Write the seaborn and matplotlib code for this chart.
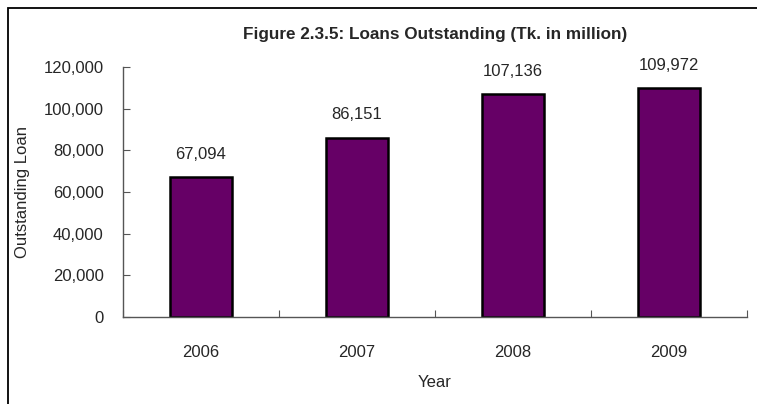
import matplotlib
matplotlib.use("Agg")
import matplotlib.pyplot as plt
import seaborn as sns
import pandas as pd
from matplotlib.patches import Rectangle
from matplotlib.ticker import FixedLocator, FuncFormatter

years = ["2006", "2007", "2008", "2009"]
loans = [67094, 86151, 107136, 109972]
y_ticks = [0, 20000, 40000, 60000, 80000, 100000, 120000]

sns.set_style("white")
plt.rcParams["font.family"] = ["Liberation Sans", "DejaVu Sans"]

df = pd.DataFrame({"Year": years, "Loan": loans})

fig = plt.figure(figsize=(7.57, 4.04), dpi=100)
ax = fig.add_axes([0.1625, 0.2153, 0.8243, 0.6188])

sns.barplot(data=df, x="Year", y="Loan", color="#660066", width=0.4,
            edgecolor="black", linewidth=1.8, saturation=1, ax=ax)

for bar, v in zip(ax.patches, loans):
    ax.annotate(f"{v:,}", (bar.get_x() + bar.get_width() / 2, v),
                xytext=(0, 11), textcoords="offset points",
                ha="center", va="bottom", fontsize=12)

ax.set_xlim(-0.5, 3.5)
ax.set_ylim(0, 120000)
ax.set_yticks(y_ticks)
ax.yaxis.set_major_formatter(FuncFormatter(lambda v, p: f"{int(v):,}"))
ax.tick_params(axis="y", direction="in", length=5, width=0.8, color="#555555",
               labelsize=12, pad=14, left=True)
ax.tick_params(axis="x", which="major", length=0, labelsize=12, pad=20)
ax.xaxis.set_minor_locator(FixedLocator([-0.5, 0.5, 1.5, 2.5, 3.5]))
ax.tick_params(axis="x", which="minor", direction="in", length=5, width=0.8,
               color="#555555", bottom=True)

for side in ["top", "right"]:
    ax.spines[side].set_visible(False)
for side in ["left", "bottom"]:
    ax.spines[side].set_color("#555555")
    ax.spines[side].set_linewidth(1.0)

ax.set_xlabel("Year", fontsize=12, labelpad=11)
ax.set_ylabel("Outstanding Loan", fontsize=12, labelpad=10)
ax.set_title("Figure 2.3.5: Loans Outstanding (Tk. in million)",
             fontsize=12.3, fontweight="bold", pad=20)

fig.patches.append(Rectangle((8 / 757, -0.2), 1.2, 1.2 - 8 / 404,
                             transform=fig.transFigure, fill=False,
                             edgecolor="black", linewidth=1.3))

fig.savefig("out.png", dpi=100)
